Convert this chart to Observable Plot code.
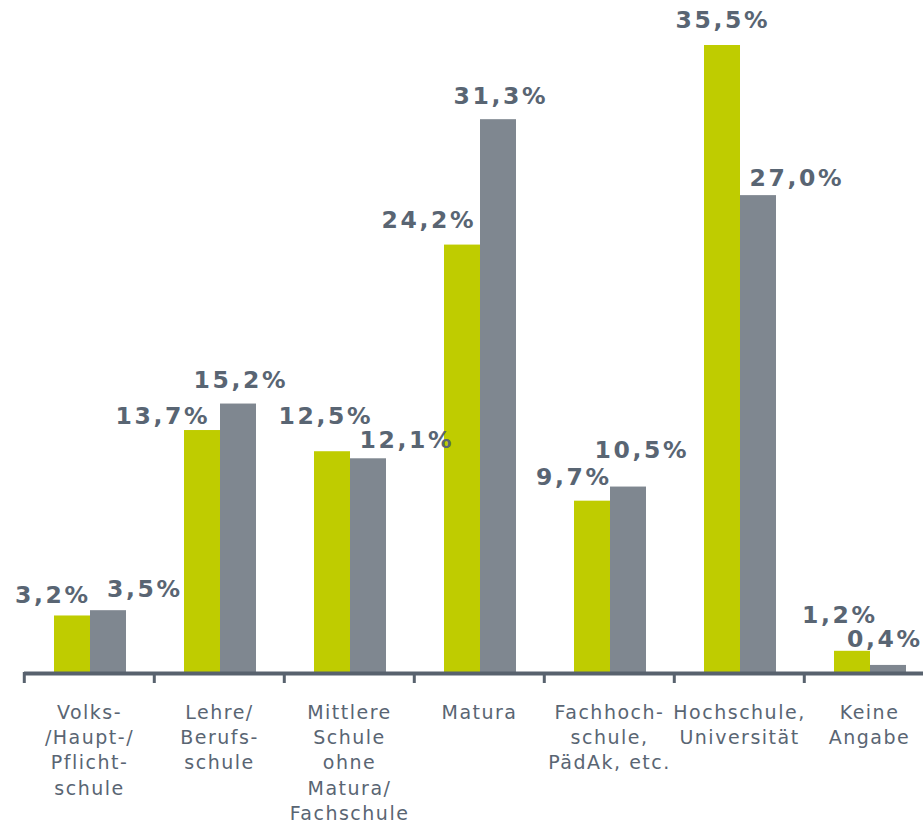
<!DOCTYPE html>
<html>
<head>
<meta charset="utf-8">
<script src="https://cdn.jsdelivr.net/npm/d3@7"></script>
<script src="https://cdn.jsdelivr.net/npm/@observablehq/plot@0.6"></script>
<style>
  html, body { margin: 0; padding: 0; background: #ffffff; overflow: hidden; }
  #chart svg { overflow: visible; }
  #chart g[aria-label="text"] text { letter-spacing: 2.6px; }
  #chart g[aria-label="fx-axis tick label"] text { letter-spacing: 1.5px; }
</style>
</head>
<body>
<div id="chart"></div>
<script>
// ---- data ----
const categories = [
  "Volks-\n/Haupt-/\nPflicht-\nschule",
  "Lehre/\nBerufs-\nschule",
  "Mittlere\nSchule\nohne\nMatura/\nFachschule",
  "Matura",
  "Fachhoch-\nschule,\nPädAk, etc.",
  "Hochschule,\nUniversität",
  "Keine\nAngabe"
];
const seriesNames = ["Reihe 1", "Reihe 2"];
const seriesGreen = [3.2, 13.7, 12.5, 24.2, 9.7, 35.5, 1.2];
const seriesGrey  = [3.5, 15.2, 12.1, 31.3, 10.5, 27.0, 0.4];

// ---- layout tweaks for value labels (pixel nudges relative to bar top centre) ----
const nudgeGreen = [[-21,-12.5],[-41,-7],[-8,-28],[-35,-16.6],[-20,-15.7],[-1,-18],[-14,-28.8]];
const nudgeGrey  = [[35,-14],[1,-16.5],[37,-11],[1,-16],[12,-29.5],[37,-10],[-5,-18]];

const colors = ["#BFCC00", "#7F8790"];
const textColor = "#596573";
const axisColor = "#58626E";

const rows = [];
categories.forEach((c, i) => {
  rows.push({cat: c, series: seriesNames[0], value: seriesGreen[i], nudge: nudgeGreen[i]});
  rows.push({cat: c, series: seriesNames[1], value: seriesGrey[i], nudge: nudgeGrey[i]});
});

const width = 923, height = 826;
const marginLeft = 22, marginRight = -12;
const bandWidth = (width - marginLeft - marginRight) / categories.length;
const fmt = v => v.toFixed(1).replace(".", ",") + "%";

const labelMarks = rows.map(r => Plot.text([r], {
  fx: "cat", x: "series", y: "value",
  text: d => fmt(d.value),
  dx: r.nudge[0] + 1.3, dy: r.nudge[1],
  lineAnchor: "bottom",
  fontWeight: "bold", fontSize: 23.5, fill: textColor
}));

const chart = Plot.plot({
  width, height,
  marginLeft, marginRight, marginTop: 45, marginBottom: 154,
  style: {fontFamily: "'DejaVu Sans', Verdana, sans-serif", color: textColor, background: "#ffffff"},
  fx: {domain: categories, padding: 0, label: null, axis: null},
  x: {domain: seriesNames, paddingInner: 0, paddingOuter: 0.762, align: 0.52, axis: null},
  y: {domain: [0, 35.5], axis: null},
  color: {domain: seriesNames, range: colors},
  marks: [
    Plot.barY(rows, {fx: "cat", x: "series", y: "value", fill: "series"}),
    Plot.ruleY([0], {stroke: axisColor, strokeWidth: 4, dy: 1}),
    Plot.axisFx({anchor: "bottom", tickSize: 11, tickFormat: () => "", dx: -bandWidth / 2,
                 stroke: axisColor, strokeWidth: 3, label: null}),
    Plot.axisFx({anchor: "bottom", tickSize: 0, tickPadding: 29, fontSize: 19,
                 lineHeight: 1.32, fill: textColor, label: null}),
    ...labelMarks
  ]
});
document.getElementById("chart").appendChild(chart);
</script>
</body>
</html>
